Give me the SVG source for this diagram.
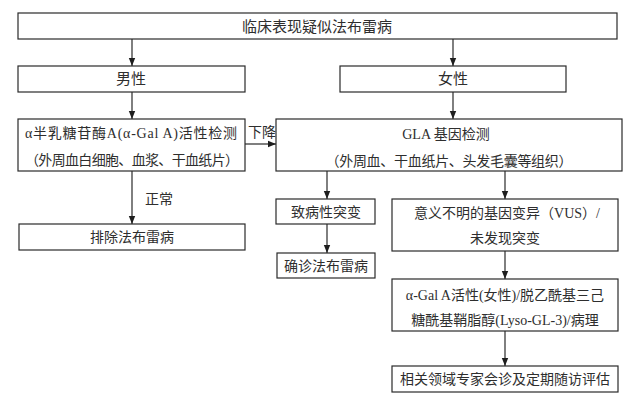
<svg xmlns="http://www.w3.org/2000/svg" width="628" height="402" viewBox="0 0 628 402">
<style>
  .box { fill: #ffffff; stroke: #2a2a2a; stroke-width: 1.2; }
  .t { font-family: "Liberation Serif", "Noto Sans CJK SC", serif; font-size: 14px; fill: #2e2e2e; text-anchor: middle; dominant-baseline: central; }
  .big { font-size: 15px; }
  .lbl { text-anchor: start; }
  .c { stroke: #2a2a2a; stroke-width: 1.2; fill: none; marker-end: url(#arr); }
</style>
<defs>
  <marker id="arr" viewBox="0 0 8 8" refX="8" refY="4" markerWidth="8" markerHeight="8" markerUnits="userSpaceOnUse" orient="auto">
    <path d="M0,0.8 L8,4 L0,7.2 Z" fill="#1e1e1e"/>
  </marker>
</defs>
<rect width="628" height="402" fill="#ffffff"/>

<g id="connectors">
  <line class="c" x1="132" y1="39" x2="132" y2="66"/>
  <line class="c" x1="453" y1="39" x2="453" y2="66"/>
  <line class="c" x1="132" y1="92" x2="132" y2="119"/>
  <line class="c" x1="453" y1="92" x2="453" y2="119"/>
  <line class="c" x1="245" y1="144" x2="276" y2="144"/>
  <line class="c" x1="132" y1="171" x2="132" y2="224"/>
  <line class="c" x1="327" y1="171" x2="327" y2="199"/>
  <line class="c" x1="505" y1="171" x2="505" y2="199"/>
  <line class="c" x1="327" y1="224" x2="327" y2="253"/>
  <line class="c" x1="505" y1="251" x2="505" y2="279"/>
  <line class="c" x1="505" y1="331" x2="505" y2="366"/>
  <text class="t lbl" x="248" y="132">下降</text>
  <text class="t lbl" x="145" y="199">正常</text>
</g>

<g id="n-top">
  <rect class="box" x="18" y="13" width="599" height="26"/>
  <text class="t big" x="317" y="27">临床表现疑似法布雷病</text>
</g>
<g id="n-male">
  <rect class="box" x="18" y="66" width="227" height="26"/>
  <text class="t big" x="131" y="79">男性</text>
</g>
<g id="n-female">
  <rect class="box" x="340" y="66" width="226" height="26"/>
  <text class="t big" x="453" y="79">女性</text>
</g>
<g id="n-enzyme">
  <rect class="box" x="18" y="119" width="227" height="52"/>
  <text class="t" x="131" y="133" textLength="212" lengthAdjust="spacing">α半乳糖苷酶A(α-Gal A)活性检测</text>
  <text class="t" x="132" y="160" textLength="214" lengthAdjust="spacing">（外周血白细胞、血浆、干血纸片）</text>
</g>
<g id="n-gla">
  <rect class="box" x="276" y="119" width="346" height="52"/>
  <text class="t" x="446" y="134">GLA 基因检测</text>
  <text class="t" x="449" y="161" textLength="247" lengthAdjust="spacing">（外周血、干血纸片、头发毛囊等组织）</text>
</g>
<g id="n-exclude">
  <rect class="box" x="19" y="224" width="226" height="26"/>
  <text class="t" x="132" y="237">排除法布雷病</text>
</g>
<g id="n-pathogenic">
  <rect class="box" x="276" y="199" width="99" height="25"/>
  <text class="t" x="326" y="212">致病性突变</text>
</g>
<g id="n-vus">
  <rect class="box" x="392" y="199" width="226" height="52"/>
  <text class="t" x="507" y="213">意义不明的基因变异（VUS）/</text>
  <text class="t" x="505" y="238">未发现突变</text>
</g>
<g id="n-confirm">
  <rect class="box" x="277" y="253" width="98" height="25"/>
  <text class="t" x="326" y="266">确诊法布雷病</text>
</g>
<g id="n-lyso">
  <rect class="box" x="392" y="279" width="226" height="52"/>
  <text class="t" x="505" y="295">α-Gal A活性(女性)/脱乙酰基三己</text>
  <text class="t" x="505" y="320">糖酰基鞘脂醇(Lyso-GL-3)/病理</text>
</g>
<g id="n-followup">
  <rect class="box" x="392" y="366" width="226" height="26"/>
  <text class="t" x="505" y="379">相关领域专家会诊及定期随访评估</text>
</g>
</svg>
